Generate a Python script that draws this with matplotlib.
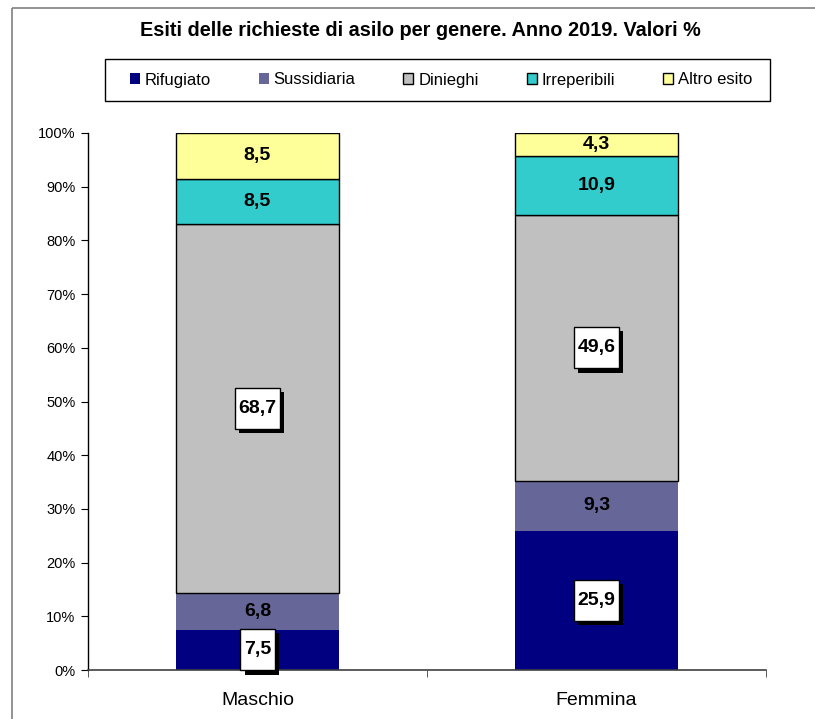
import matplotlib
matplotlib.use("Agg")
import matplotlib.pyplot as plt
import matplotlib.patheffects as pe
from matplotlib.path import Path
from matplotlib.patches import Rectangle
from matplotlib.lines import Line2D
import numpy as np

plt.rcParams['font.family'] = ['Liberation Sans', 'DejaVu Sans']

title = "Esiti delle richieste di asilo per genere. Anno 2019. Valori %"
categories = ["Maschio", "Femmina"]
series_names = ["Rifugiato", "Sussidiaria", "Dinieghi", "Irreperibili", "Altro esito"]
rifugiato = [7.5, 25.9]
sussidiaria = [6.8, 9.3]
dinieghi = [68.7, 49.6]
irreperibili = [8.5, 10.9]
altro = [8.5, 4.3]
series_values = [rifugiato, sussidiaria, dinieghi, irreperibili, altro]
colors = ["#000080", "#666699", "#C0C0C0", "#33CCCC", "#FFFF99"]
edged = [False, False, True, True, True]
# which labels are boxed (per series, per category)
boxed = [[True, True], [False, False], [True, True], [False, False], [False, False]]
yticks = [0, 10, 20, 30, 40, 50, 60, 70, 80, 90, 100]
ytick_labels = ["0%", "10%", "20%", "30%", "40%", "50%", "60%", "70%", "80%", "90%", "100%"]

W, H = 815, 719
fig = plt.figure(figsize=(W / 100, H / 100), dpi=100)
ax = fig.add_axes([88 / W, 1 - 670 / H, (766 - 88) / W, (670 - 133) / H])

# outer frame (left and top visible)
fx, fy = 12 / W, 1 - 8 / H
fig.lines.append(Line2D([fx, 1.0], [fy, fy], transform=fig.transFigure,
                        color="#808080", lw=1.2, solid_capstyle="butt"))
fig.lines.append(Line2D([fx, fx], [0.0, fy], transform=fig.transFigure,
                        color="#808080", lw=1.2, solid_capstyle="butt"))

# legend frame
fig.patches.append(Rectangle((105 / W, 1 - 101 / H), 665 / W, 42 / H,
                             transform=fig.transFigure, fill=True,
                             facecolor="white", edgecolor="black", lw=1.0, zorder=1))

x = np.arange(len(categories))
bottom = np.zeros(len(categories))
width = 0.48


def custom_box(x0, y0, width, height, mutation_size):
    px = 0.18 * mutation_size
    py = 0.62 * mutation_size
    x0, y0 = x0 - px, y0 - py
    x1, y1 = x0 + width + 2 * px, y0 + height + 2 * py
    return Path([(x0, y0), (x1, y0), (x1, y1), (x0, y1), (x0, y0)], closed=True)


handles = []
for i, (name, vals) in enumerate(zip(series_names, series_values)):
    vals = np.array(vals)
    bars = ax.bar(x, vals, width, bottom=bottom, color=colors[i],
                  edgecolor="black" if edged[i] else colors[i],
                  linewidth=1.0 if edged[i] else 0.0, label=name, zorder=2)
    handles.append(bars)
    for j, v in enumerate(vals):
        yc = bottom[j] + v / 2
        lab = f"{v:.1f}".replace(".", ",")
        if boxed[i][j]:
            t = ax.text(x[j], yc, lab, ha="center", va="center", fontsize=14,
                        fontweight="bold", color="black", zorder=5, clip_on=False,
                        bbox=dict(boxstyle=custom_box, facecolor="white",
                                  edgecolor="black", linewidth=1.0))
            t.get_bbox_patch().set_path_effects([
                pe.SimplePatchShadow(offset=(3, -3), shadow_rgbFace="black", alpha=1.0),
                pe.Normal()])
        else:
            ax.text(x[j], yc, lab, ha="center", va="center", fontsize=14,
                    fontweight="bold", color="black", zorder=5)
    bottom = bottom + vals

ax.set_xlim(-0.5, 1.5)
ax.set_ylim(0, 100)
ax.set_yticks(yticks)
ax.set_yticklabels(ytick_labels, fontsize=10.5)
ax.set_xticks(x)
ax.set_xticklabels(categories, fontsize=14)
ax.set_xticks([-0.5, 0.5, 1.5], minor=True)
ax.tick_params(axis="x", which="major", length=0, pad=16)
ax.tick_params(axis="x", which="minor", length=5, direction="out", color="#404040")
ax.tick_params(axis="y", length=5, direction="out", pad=4, color="black")
for s in ["top", "right"]:
    ax.spines[s].set_visible(False)
ax.spines["left"].set_color("black")
ax.spines["bottom"].set_color("#404040")
ax.spines["left"].set_linewidth(1.0)
ax.spines["bottom"].set_linewidth(1.2)

fig.text(420 / W, 1 - 31 / H, title, ha="center", va="center",
         fontsize=14.3, fontweight="bold")

leg = fig.legend(handles=handles, labels=series_names, ncol=5, loc="center",
                 bbox_to_anchor=(441 / W, 1 - 80 / H), fontsize=12,
                 frameon=False,
                 handlelength=0.6, handleheight=0.6, handletextpad=0.3,
                 columnspacing=2.87, borderpad=0.5, borderaxespad=0)
leg.set_zorder(3)
for h, e in zip(leg.legend_handles, edged):
    h.set_edgecolor("black" if e else h.get_facecolor())
    h.set_linewidth(1.0 if e else 0)

fig.savefig("out.png", dpi=100)
